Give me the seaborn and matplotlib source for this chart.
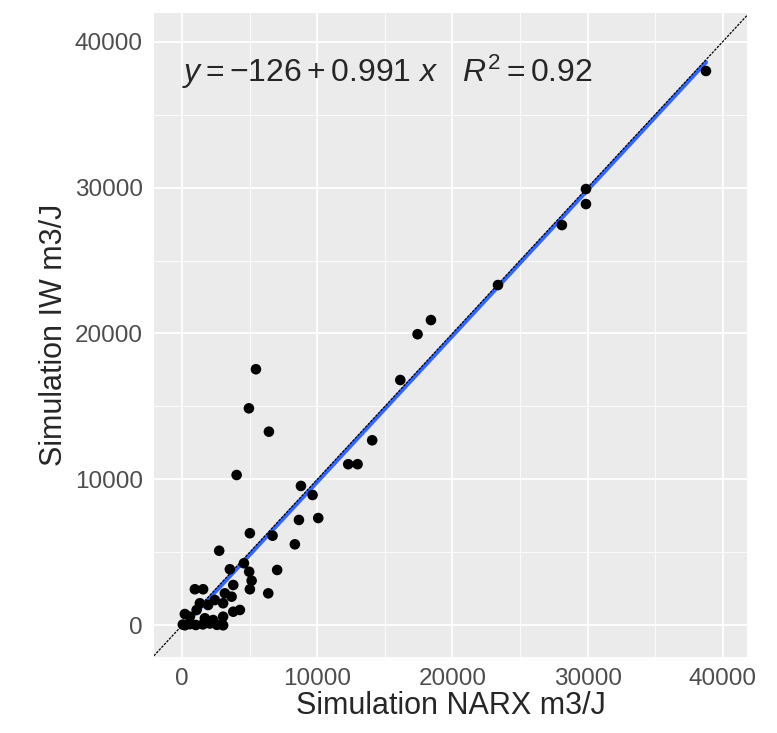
import numpy as np
import pandas as pd
import seaborn as sns
import matplotlib.pyplot as plt
from matplotlib.ticker import MultipleLocator

# values
narx = [38760, 29880, 29880, 28100, 23370, 18410, 17420, 16140, 14060, 12290,
        12980, 8790, 9650, 8640, 10070, 5010, 6690, 8340, 5460, 4940,
        6420, 4030, 2740, 7030, 6370, 3530, 4570, 4960, 5140, 5010,
        3780, 940, 1550, 3160, 3660, 4270, 3030, 2420, 1920, 1310,
        1070, 3030, 3030, 2290, 1680, 200, 570, 3780, 50, 200,
        570, 1010, 1530, 2050, 2570]
iw = [37990, 29900, 28870, 27430, 23320, 20920, 19950, 16810, 12680, 11040,
      11040, 9550, 8930, 7220, 7350, 6310, 6140, 5550, 17550, 14870,
      13270, 10300, 5110, 3790, 2190, 3840, 4250, 3670, 3060, 2470,
      2760, 2470, 2470, 2190, 1960, 1050, 1510, 1730, 1390, 1510,
      1050, 590, 0, 360, 480, 770, 590, 930, 50, 0,
      80, 20, 60, 120, 30]

df = pd.DataFrame({"narx": narx, "iw": iw})

sns.set_theme(style="darkgrid", rc={
    "axes.facecolor": "#EBEBEB",
    "grid.color": "white",
    "axes.edgecolor": "#EBEBEB",
})
plt.rcParams['font.family'] = ['Liberation Sans', 'DejaVu Sans']
plt.rcParams['mathtext.fontset'] = 'custom'
plt.rcParams['mathtext.rm'] = 'Liberation Sans'
plt.rcParams['mathtext.it'] = 'Liberation Sans:italic'

fig = plt.figure(figsize=(7.77, 7.33), dpi=100)
ax = fig.add_axes([0.198, 0.1037, 0.7638, 0.879])

ax.axline((0, 0), slope=1, color="black", linestyle=(0, (2, 1)), lw=0.9, zorder=4)
sns.regplot(data=df, x="narx", y="iw", scatter=False, ci=None, ax=ax,
            line_kws={"color": "#3366FF", "lw": 3, "zorder": 3})
sns.scatterplot(data=df, x="narx", y="iw", color="black", s=58,
                edgecolor="none", ax=ax, zorder=5)

ax.set_xlim(-2095, 41820)
ax.set_ylim(-2173, 41987)
ax.xaxis.set_major_locator(MultipleLocator(10000))
ax.yaxis.set_major_locator(MultipleLocator(10000))
ax.xaxis.set_minor_locator(MultipleLocator(5000))
ax.yaxis.set_minor_locator(MultipleLocator(5000))
ax.grid(which="major", color="white", lw=1.3)
ax.grid(which="minor", color="white", lw=0.6)
for s in ax.spines.values():
    s.set_visible(False)
ax.tick_params(which="major", length=4, width=1, color="#333333",
               labelsize=17.5, labelcolor="#4D4D4D", pad=4)
ax.tick_params(which="minor", length=0)

ax.set_xlabel("Simulation NARX m3/J", fontsize=22, labelpad=1)
ax.set_ylabel("Simulation IW m3/J", fontsize=22, labelpad=4)

ax.text(0, 37900, r"$y = -126 + 0.991\ x\quad R^2 = 0.92$", fontsize=23,
        va="center", ha="left")

fig.savefig("out.png", dpi=100)
